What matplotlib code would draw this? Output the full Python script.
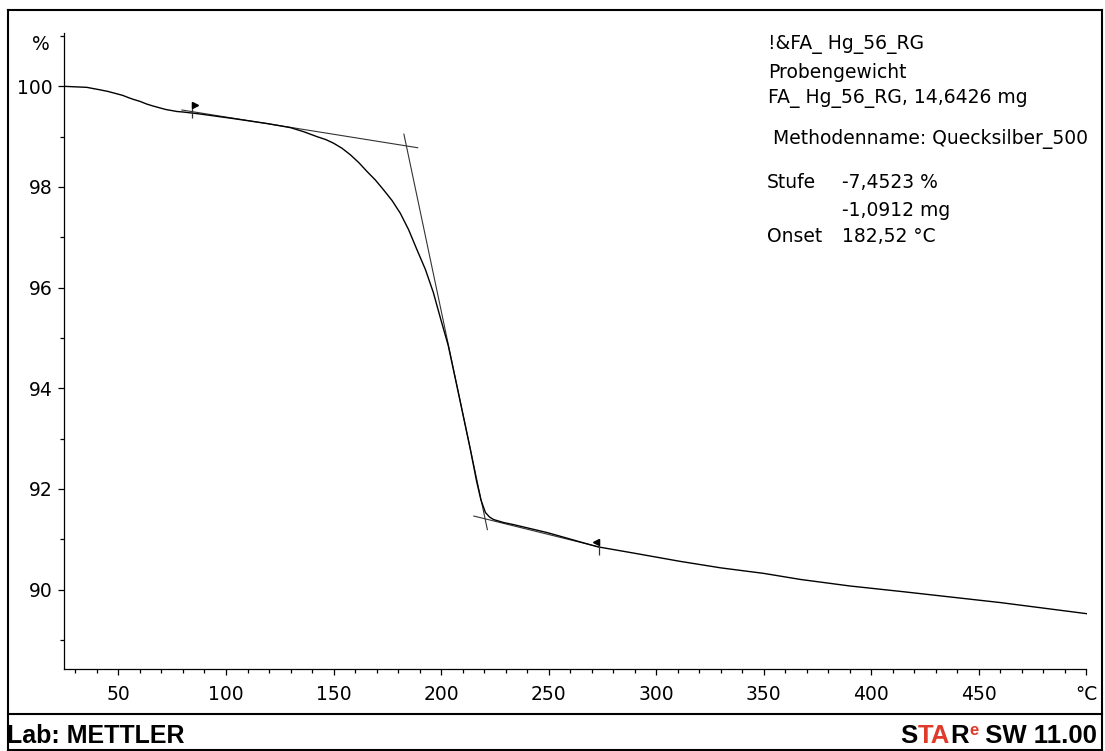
import matplotlib
matplotlib.use("Agg")
import matplotlib.pyplot as plt
from matplotlib.lines import Line2D
from matplotlib.ticker import FixedLocator, MultipleLocator
import matplotlib.transforms as mtransforms

# ---------------- data ----------------
temp = [24.7, 30.0, 35.3, 41.5, 45.0, 49.4, 52.0, 55.0, 57.0, 60.1, 63.0, 66.0, 69.4,
        72.0, 77.2, 80.0, 88.0, 103.3, 119.2, 129.9, 136.0, 142.3, 146.5, 150.0,
        153.9, 157.8, 161.6, 165.5, 169.4, 173.3, 177.2, 181.0, 184.9, 188.8,
        192.7, 196.4, 199.9, 203.3, 208.7, 213.6, 216.5, 218.5, 220.6, 222.5,
        224.4, 229.1, 233.6, 249.4, 272.6, 290.0, 311.0, 330.0, 350.0, 367.0,
        390.0, 414.0, 437.0, 460.0, 480.0, 500.0]
mass = [100.00, 99.99, 99.98, 99.93, 99.90, 99.85, 99.82, 99.77, 99.74, 99.70, 99.65, 99.61, 99.57,
        99.54, 99.50, 99.49, 99.45, 99.36, 99.26, 99.18, 99.10, 99.00, 98.94, 98.87,
        98.77, 98.64, 98.49, 98.31, 98.14, 97.94, 97.73, 97.48, 97.15, 96.75,
        96.36, 95.90, 95.36, 94.85, 93.77, 92.78, 92.15, 91.78, 91.53, 91.44,
        91.39, 91.33, 91.29, 91.13, 90.85, 90.72, 90.56, 90.43, 90.32, 90.20,
        90.07, 89.96, 89.85, 89.74, 89.63, 89.52]

tan1_T = [79.5, 189.1]
tan1_w = [99.53, 98.78]
tan2_T = [182.7, 221.5]
tan2_w = [99.05, 91.19]
tan3_T = [215.2, 273.0]
tan3_w = [91.46, 90.85]

limit_T = [84.4, 273.2]
limit_w = [99.52, 90.85]

x_major = [50, 100, 150, 200, 250, 300, 350, 400, 450, 500]
x_labels = ["50", "100", "150", "200", "250", "300", "350", "400", "450", "°C"]
y_major = [90, 92, 94, 96, 98, 100]

info_lines = ["!&FA_ Hg_56_RG", "Probengewicht", "FA_ Hg_56_RG, 14,6426 mg"]
method_line = "Methodenname: Quecksilber_500"
result_keys = ["Stufe", "", "Onset"]
result_vals = ["-7,4523 %", "-1,0912 mg", "182,52 °C"]

# ---------------- figure ----------------
W, H = 1105, 751
fig = plt.figure(figsize=(W / 100, H / 100), dpi=100)
fig.patch.set_facecolor("white")
plt.rcParams["font.family"] = ["DejaVu Sans"]

def fx(px):
    return px / W

def fy(py):
    return 1 - py / H

ax = fig.add_axes([fx(64), fy(669), fx(1086.5) - fx(64), fy(33) - fy(669)])
ax.set_xlim(24.7, 500)
ax.set_ylim(88.42, 101.06)

ax.plot(temp, mass, color="black", lw=1.0, solid_joinstyle="round", zorder=3)
for tT, tw in [(tan1_T, tan1_w), (tan2_T, tan2_w), (tan3_T, tan3_w)]:
    ax.plot(tT, tw, color="#333333", lw=0.8, zorder=2)

# evaluation limit flags
ax.plot(limit_T, limit_w, ls="none", marker="|", ms=12, mew=0.9, color="#303030", zorder=4)
off_r = mtransforms.offset_copy(ax.transData, fig=fig, x=2.2, y=5, units="dots")
off_l = mtransforms.offset_copy(ax.transData, fig=fig, x=-2.2, y=5, units="dots")
ax.plot([limit_T[0]], [limit_w[0]], ls="none", marker=">", ms=4.5, color="black",
        transform=off_r, zorder=5)
ax.plot([limit_T[1]], [limit_w[1]], ls="none", marker="<", ms=4.5, color="black",
        transform=off_l, zorder=5)

for s in ["top", "right"]:
    ax.spines[s].set_visible(False)
for s in ["left", "bottom"]:
    ax.spines[s].set_linewidth(0.9)
    ax.spines[s].set_color("black")

ax.xaxis.set_major_locator(FixedLocator(x_major))
ax.set_xticklabels(x_labels)
ax.xaxis.set_minor_locator(MultipleLocator(10))
ax.yaxis.set_major_locator(FixedLocator(y_major))
ax.set_yticklabels([str(v) for v in y_major])
ax.yaxis.set_minor_locator(MultipleLocator(1))

ax.tick_params(which="major", direction="out", length=4.5, width=0.9, labelsize=13.5,
               colors="black")
ax.tick_params(which="minor", direction="out", length=3, width=0.9)
ax.tick_params(axis="x", which="major", pad=7)
ax.tick_params(axis="y", which="major", pad=3.5)

fig.text(fx(41), fy(45), "%", fontsize=13.5, ha="center", va="center")

# info text block
fsz = 13.5
for i, t in enumerate(info_lines):
    fig.text(fx(768), fy(45 + 27 * i), t, fontsize=fsz, ha="left", va="center")
fig.text(fx(773), fy(139), method_line, fontsize=fsz, ha="left", va="center")
for i, (k, v) in enumerate(zip(result_keys, result_vals)):
    yy = fy(183 + 27 * i)
    if k:
        fig.text(fx(767), yy, k, fontsize=fsz, ha="left", va="center")
    fig.text(fx(842), yy, v, fontsize=fsz, ha="left", va="center")

# frame lines
lw_frame = 1.5
for (x0, y0, x1, y1) in [(8, 10, 1102, 10), (8, 10, 8, 750), (1102, 10, 1102, 750),
                         (8, 750, 1102, 750), (8, 714, 1102, 714)]:
    fig.add_artist(Line2D([fx(x0), fx(x1)], [fy(y0), fy(y1)], color="black", lw=lw_frame,
                          transform=fig.transFigure))

# footer
ffam = ["Liberation Sans", "DejaVu Sans"]
fig.text(fx(7), fy(743), "Lab: METTLER", fontsize=18, fontweight="bold", family=ffam,
         ha="left", va="baseline")

red = "#e03a2a"
parts = [("S", "black", False), ("TA", red, False), ("R", "black", False),
         ("e", red, True), (" SW 11.00", "black", False)]
renderer = fig.canvas.get_renderer()
texts = []
for s, c, sup in parts:
    t = fig.text(0, 0, s, fontsize=12 if sup else 18.5, fontweight="bold", family=ffam,
                 color=c, ha="left", va="baseline")
    texts.append((t, sup))
widths = [t.get_window_extent(renderer).width for t, _ in texts]
x = 1097 - sum(widths)
for (t, sup), w in zip(texts, widths):
    t.set_position((fx(x), fy(743 - (8 if sup else 0))))
    x += w

fig.savefig("out.png", dpi=100, facecolor="white")
